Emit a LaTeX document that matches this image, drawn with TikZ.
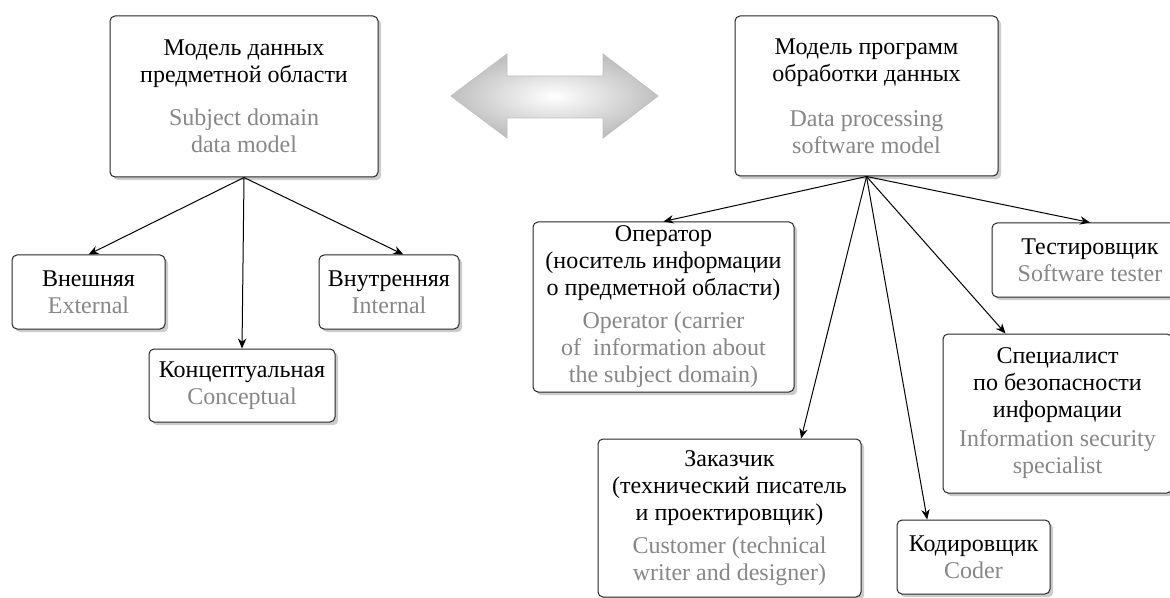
\documentclass[tikz,border=0pt]{standalone}
\usepackage{fontspec}
\setmainfont{Liberation Serif}
\usepackage{xcolor}
\usetikzlibrary{positioning,arrows.meta,shadows}
\colorlet{engtext}{black!47}
\newcommand{\eng}[1]{\textcolor{engtext}{#1}}
\tikzstyle{element} = [rectangle, rounded corners=2.5pt, draw=black!85, line width=0.5pt, fill=white, align=center, inner sep=1pt, font=\fontsize{12}{13.5}\selectfont, drop shadow={shadow xshift=1.6pt, shadow yshift=-1.6pt, fill=black!20, opacity=1}]
\tikzstyle{arrow} = [line width=0.5pt,->,>={Stealth[length=5pt,width=4.2pt,inset=1.6pt]}]
\begin{document}
\begin{tikzpicture}[x=0.5pt,y=-0.5pt]
\useasboundingbox (0,0) rectangle (1170,598);
\clip (0,0) rectangle (1170,598);
% two models
\node[element, minimum width=134pt, minimum height=80.5pt] (dataModel) at (244,96.5)
  {Модель данных\\предметной области\\[8pt]\eng{Subject domain}\\\eng{data model}};
\node[element, minimum width=131.5pt, minimum height=80pt] (softModel) at (866.5,96)
  {Модель программ\\обработки данных\\[9pt]\eng{Data processing}\\\eng{software model}};
\path[draw=black!25, line width=0.4pt, shading=radial, inner color=white, outer color=black!25]
  (451,96) -- (507,54) -- (507,76) -- (603,76) -- (603,54) -- (658,96)
  -- (603,138) -- (603,118) -- (507,118) -- (507,138) -- cycle;
% levels of the data model
\node[element, minimum width=76.5pt, minimum height=37pt] (external) at (88.5,292)
  {Внешняя\\\eng{External}};
\node[element, minimum width=70pt, minimum height=37pt] (internal) at (389,292)
  {Внутренняя\\\eng{Internal}};
\node[element, minimum width=93pt, minimum height=36.5pt] (conceptual) at (242,385.5)
  {Концептуальная\\\eng{Conceptual}};
% participants
\node[element, minimum width=130.5pt, minimum height=85pt] (operator) at (663.5,307)
  {Оператор\\(носитель информации\\о предметной области)\\[3pt]\eng{Operator (carrier}\\\eng{of~ information about}\\\eng{the subject domain)}};
\node[element, minimum width=98pt, minimum height=37pt] (tester) at (1090,260)
  {Тестировщик\\\eng{Software tester}};
\node[element, minimum width=114.5pt, minimum height=79.5pt] (security) at (1057.5,413.5)
  {Специалист\\по безопасности\\информации\\[1pt]\eng{Information security}\\\eng{specialist}};
\node[element, minimum width=131.5pt, minimum height=79pt] (customer) at (729.5,518)
  {Заказчик\\(технический писатель\\и проектировщик)\\[3pt]\eng{Customer (technical}\\\eng{writer and designer)}};
\node[element, minimum width=76.5pt, minimum height=37pt] (coder) at (973.5,557)
  {Кодировщик\\\eng{Coder}};

\draw[arrow] (dataModel.south) -- (external.north);
\draw[arrow] (dataModel.south) -- (conceptual.north);
\draw[arrow] (dataModel.south) -- (internal.69);
\draw[arrow] (softModel.south) -- (operator.north);
\draw[arrow] (softModel.south) -- (tester.north);
\draw[arrow] (softModel.south) -- (security.123);
\draw[arrow] (softModel.south) -- (customer.48);
\draw[arrow] (softModel.south) -- (coder.141);
\end{tikzpicture}
\end{document}
